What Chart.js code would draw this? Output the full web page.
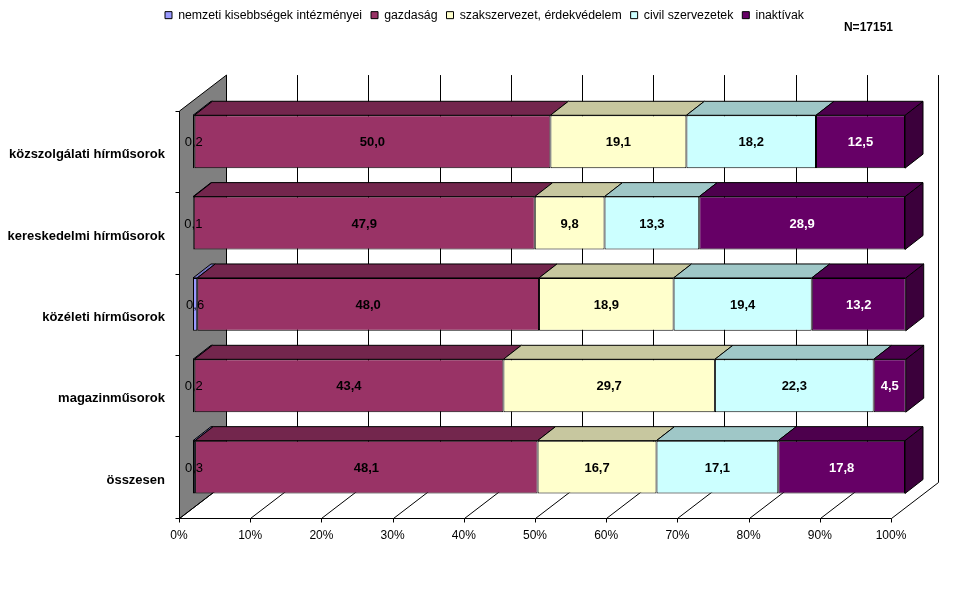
<!DOCTYPE html>
<html>
<head>
<meta charset="utf-8">
<script src="https://cdn.jsdelivr.net/npm/chart.js@4"></script>
<style>
  html, body { margin: 0; padding: 0; background: #fff; }
  #wrap { width: 969px; height: 592px; }
</style>
</head>
<body>
<div id="wrap"><canvas id="chart" width="969" height="592"></canvas></div>
<script>
const categories = ['közszolgálati hírműsorok', 'kereskedelmi hírműsorok', 'közéleti hírműsorok', 'magazinműsorok', 'összesen'];
const seriesNames = ['nemzeti kisebbségek intézményei', 'gazdaság', 'szakszervezet, érdekvédelem', 'civil szervezetek', 'inaktívak'];
const nemzeti = [0.2, 0.1, 0.6, 0.2, 0.3];
const gazdasag = [50.0, 47.9, 48.0, 43.4, 48.1];
const szakszervezet = [19.1, 9.8, 18.9, 29.7, 16.7];
const civil = [18.2, 13.3, 19.4, 22.3, 17.1];
const inaktivak = [12.5, 28.9, 13.2, 4.5, 17.8];
const sampleSize = 'N=17151';

const fronts = ['#9999FF', '#993366', '#FFFFCC', '#CCFFFF', '#660066'];
const tops = ['#7373BF', '#73264D', '#C7C79F', '#9FC7C7', '#4D004D'];
const sides = ['#5C5C99', '#5C1F3D', '#99997A', '#7A9999', '#3B003B'];
const labelColors = ['#000', '#000', '#000', '#000', '#fff'];

// 3D offsets relative to the plane of the bar fronts
const FRONT = { dx: -14, dy: 10 };
const BACK = { dx: 33, dy: -26 };
const DEPTH = { dx: 18, dy: -14 };

Chart.defaults.font.family = '"Liberation Sans", Arial, sans-serif';
Chart.defaults.font.size = 12;
Chart.defaults.color = '#000';

function seg(ctx, x1, y1, x2, y2) {
    ctx.beginPath();
    ctx.moveTo(x1, y1);
    ctx.lineTo(x2, y2);
    ctx.stroke();
}

function poly(ctx, pts, fill) {
    ctx.beginPath();
    ctx.moveTo(pts[0][0], pts[0][1]);
    for (let i = 1; i < pts.length; i++) ctx.lineTo(pts[i][0], pts[i][1]);
    ctx.closePath();
    ctx.fillStyle = fill;
    ctx.fill();
    ctx.stroke();
}

const frame3d = {
    id: 'frame3d',
    beforeDatasetsDraw(chart) {
        const { ctx, chartArea: a } = chart;
        const x = chart.scales.x;
        const r = v => Math.round(v) + 0.5;
        const fl = r(a.left + FRONT.dx), fb = r(a.bottom + FRONT.dy), ft = a.top + FRONT.dy;
        const bl = r(a.left + BACK.dx), bt = a.top + BACK.dy, bb = r(a.bottom + BACK.dy);
        ctx.save();
        ctx.lineWidth = 1;
        ctx.strokeStyle = '#000';

        // left wall
        poly(ctx, [[fl, ft], [bl, bt], [bl, bb], [fl, fb]], '#808080');

        // back wall gridlines and floor lines
        x.ticks.forEach(t => {
            const px = x.getPixelForValue(t.value);
            if (t.value > 0) seg(ctx, r(px + BACK.dx), bt, r(px + BACK.dx), bb);
            seg(ctx, r(px + FRONT.dx), fb, r(px + BACK.dx), bb);
            seg(ctx, r(px + FRONT.dx), fb, r(px + FRONT.dx), fb + 4);
        });
        seg(ctx, fl, fb, r(a.right + FRONT.dx), fb);

        // category tick marks on the front edge of the wall
        const band = (a.bottom - a.top) / categories.length;
        for (let i = 0; i <= categories.length; i++) {
            const py = r(a.top + i * band + FRONT.dy);
            seg(ctx, fl - 4, py, fl, py);
        }

        // top and side faces of the bars
        for (let j = 0; j < categories.length; j++) {
            const n = chart.data.datasets.length;
            for (let i = 0; i < n; i++) {
                const el = chart.getDatasetMeta(i).data[j];
                const p = el.getProps(['x', 'y', 'base', 'height'], true);
                const x1 = Math.min(p.x, p.base), x2 = Math.max(p.x, p.base);
                const top = p.y - p.height / 2, bottom = p.y + p.height / 2;
                if (i === n - 1) {
                    poly(ctx, [[x2, top], [x2 + DEPTH.dx, top + DEPTH.dy], [x2 + DEPTH.dx, bottom + DEPTH.dy], [x2, bottom]], sides[i]);
                }
                poly(ctx, [[x1, top], [x2, top], [x2 + DEPTH.dx, top + DEPTH.dy], [x1 + DEPTH.dx, top + DEPTH.dy]], tops[i]);
            }
        }
        ctx.restore();
    },
    afterDatasetsDraw(chart) {
        const { ctx } = chart;
        ctx.save();
        ctx.textAlign = 'center';
        ctx.textBaseline = 'middle';
        chart.data.datasets.forEach((ds, i) => {
            ctx.font = (i === 0 ? '' : 'bold ') + '13px "Liberation Sans", Arial, sans-serif';
            ctx.fillStyle = labelColors[i];
            chart.getDatasetMeta(i).data.forEach((el, j) => {
                const p = el.getProps(['x', 'y', 'base'], true);
                const txt = ds.data[j].toFixed(1).replace('.', ',');
                ctx.fillText(txt, (p.x + p.base) / 2, p.y + 1);
            });
        });
        ctx.font = 'bold 12px "Liberation Sans", Arial, sans-serif';
        ctx.fillStyle = '#000';
        ctx.textAlign = 'right';
        ctx.fillText(sampleSize, 893, 28);
        ctx.restore();
    }
};

const seriesValues = [nemzeti, gazdasag, szakszervezet, civil, inaktivak];

new Chart(document.getElementById('chart'), {
    type: 'bar',
    data: {
        labels: categories,
        datasets: seriesValues.map((vals, i) => ({
            label: seriesNames[i],
            data: vals,
            backgroundColor: fronts[i],
            borderColor: '#000',
            borderWidth: 1,
            borderSkipped: false,
            barPercentage: 0.65,
            categoryPercentage: 1
        }))
    },
    options: {
        indexAxis: 'y',
        responsive: false,
        animation: false,
        layout: { padding: 0 },
        plugins: {
            legend: {
                position: 'top',
                labels: {
                    boxWidth: 7,
                    boxHeight: 7,
                    padding: 9,
                    color: '#000',
                    font: { size: 12.3 }
                }
            },
            tooltip: { enabled: false }
        },
        scales: {
            x: {
                stacked: true,
                min: 0,
                max: 100,
                position: 'bottom',
                grid: { display: false, drawTicks: false },
                border: { display: false },
                ticks: {
                    stepSize: 10,
                    autoSkip: false,
                    maxRotation: 0,
                    padding: 21,
                    labelOffset: FRONT.dx,
                    callback: v => v + '%'
                },
                afterFit(s) { s.height = 84.25; }
            },
            xTop: {
                axis: 'x',
                position: 'top',
                display: true,
                grid: { display: false, drawTicks: false },
                border: { display: false },
                ticks: { display: false },
                afterFit(s) { s.height = 69.75; }
            },
            y: {
                stacked: true,
                grid: { display: false, drawTicks: false },
                border: { display: false },
                ticks: {
                    padding: 28,
                    labelOffset: 13,
                    font: { weight: 'bold', size: 13 }
                },
                afterFit(s) { s.width = 193; }
            },
            yRight: {
                axis: 'y',
                position: 'right',
                display: true,
                grid: { display: false, drawTicks: false },
                border: { display: false },
                ticks: { display: false },
                afterFit(s) { s.width = 64; }
            }
        }
    },
    plugins: [frame3d]
});
</script>
</body>
</html>
